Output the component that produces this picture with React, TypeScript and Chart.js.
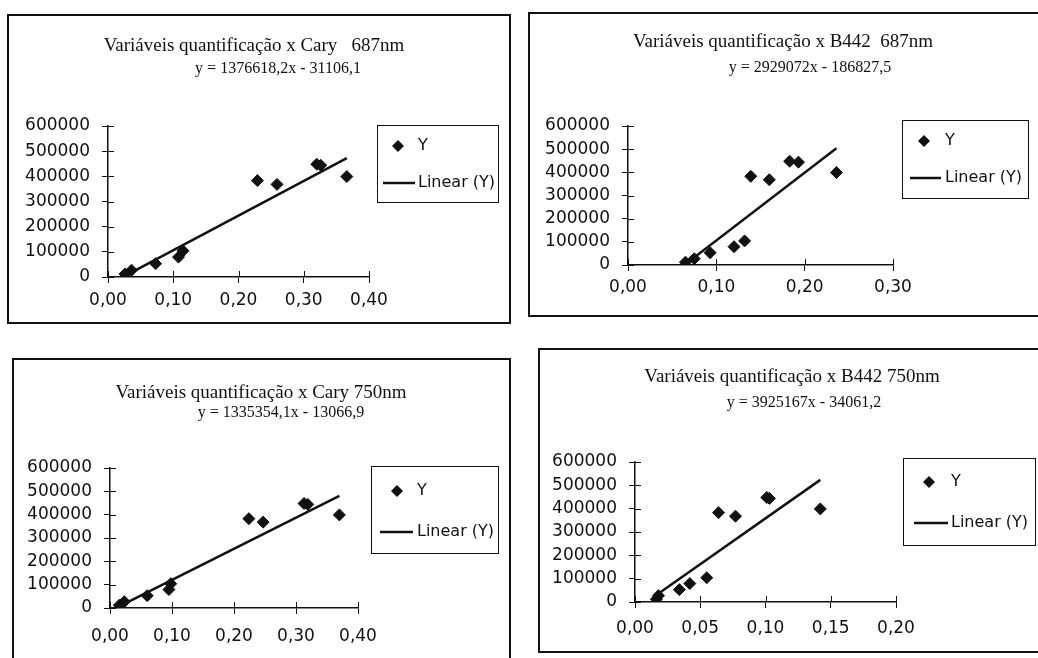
import React, { useEffect, useRef } from 'react';
import { Chart, registerables } from 'chart.js';

Chart.register(...registerables);

// ---------- data ----------
const yValues = [12000, 27000, 53000, 79000, 104000, 383000, 368000, 448000, 444000, 399000];
const xCary687 = [0.026, 0.036, 0.073, 0.108, 0.115, 0.229, 0.259, 0.320, 0.326, 0.366];
const xB442_687 = [0.065, 0.075, 0.093, 0.120, 0.132, 0.139, 0.160, 0.183, 0.193, 0.236];
const xCary750 = [0.015, 0.023, 0.060, 0.095, 0.098, 0.224, 0.247, 0.313, 0.319, 0.370];
const xB442_750 = [0.0164, 0.018, 0.034, 0.042, 0.055, 0.064, 0.077, 0.101, 0.103, 0.142];
const xSeries = [xCary687, xB442_687, xCary750, xB442_750];

const titles = [
  'Variáveis quantificação x Cary   687nm',
  'Variáveis quantificação x B442  687nm',
  'Variáveis quantificação x Cary 750nm',
  'Variáveis quantificação x B442 750nm',
];
const equations = [
  'y = 1376618,2x - 31106,1',
  'y = 2929072x - 186827,5',
  'y = 1335354,1x - 13066,9',
  'y = 3925167x - 34061,2',
];
const slopes = [1376618.2, 2929072, 1335354.1, 3925167];
const intercepts = [-31106.1, -186827.5, -13066.9, -34061.2];
const xAxisMax = [0.4, 0.3, 0.4, 0.2];
const xAxisStep = [0.1, 0.1, 0.1, 0.05];
const yAxisMax = 600000;
const yAxisStep = 100000;
const legendLabels = ['Y', 'Linear (Y)'];

// ---------- layout ----------
type Panel = {
  left: number; top: number; w: number; h: number;
  area: { l: number; t: number; r: number; b: number };
  titleX: number; titleY: number; eqX: number; eqY: number;
  xPad: number;
  legend: { x: number; y: number; w: number; h: number; dx: number; dy: number; l0: number; l1: number; ly: number; tx: number };
};

const panels: Panel[] = [
  {
    left: 7, top: 14, w: 504, h: 310,
    area: { l: 101, t: 112, r: 362, b: 263 },
    titleX: 247, titleY: 32, eqX: 271, eqY: 55, xPad: 7,
    legend: { x: 370, y: 111, w: 121, h: 77, dx: 21, dy: 21, l0: 6, l1: 38, ly: 58, tx: 41 },
  },
  {
    left: 528, top: 12, w: 520, h: 305,
    area: { l: 100, t: 114, r: 365, b: 253 },
    titleX: 255, titleY: 30, eqX: 282, eqY: 56, xPad: 6,
    legend: { x: 374, y: 108, w: 126, h: 78, dx: 22, dy: 21, l0: 8, l1: 39, ly: 58, tx: 43 },
  },
  {
    left: 12, top: 358, w: 499, h: 320,
    area: { l: 98, t: 110, r: 346, b: 250 },
    titleX: 249, titleY: 35, eqX: 269, eqY: 55, xPad: 12,
    legend: { x: 359, y: 108, w: 127, h: 87, dx: 26, dy: 25, l0: 9, l1: 42, ly: 66, tx: 46 },
  },
  {
    left: 538, top: 348, w: 520, h: 305,
    area: { l: 97, t: 114, r: 358, b: 254 },
    titleX: 254, titleY: 29, eqX: 266, eqY: 55, xPad: 10,
    legend: { x: 365, y: 110, w: 132, h: 87, dx: 26, dy: 24, l0: 11, l1: 45, ly: 65, tx: 48 },
  },
];

const INK = '#111111';
const SANS = '"DejaVu Sans", "Liberation Sans", sans-serif';
const SERIF = '"Liberation Serif", "DejaVu Serif", serif';
const X_AXIS_H = 40;

function diamond(ctx: CanvasRenderingContext2D, x: number, y: number, r: number) {
  ctx.beginPath();
  ctx.moveTo(x - r, y);
  ctx.lineTo(x, y - r);
  ctx.lineTo(x + r, y);
  ctx.lineTo(x, y + r);
  ctx.closePath();
  ctx.fill();
}

function makePlugin(p: Panel, idx: number) {
  return {
    id: 'decor' + idx,
    beforeDatasetsDraw(chart: any) {
      const ctx = chart.ctx as CanvasRenderingContext2D;
      const xs = chart.scales.x;
      const ys = chart.scales.y;
      ctx.save();
      ctx.strokeStyle = INK;
      ctx.lineWidth = 1;
      ctx.beginPath();
      ys.ticks.forEach((t: any) => {
        const py = Math.round(ys.getPixelForValue(t.value)) + 0.5;
        ctx.moveTo(xs.left, py);
        ctx.lineTo(xs.left + 6, py);
      });
      xs.ticks.forEach((t: any) => {
        const px = Math.round(xs.getPixelForValue(t.value)) + 0.5;
        ctx.moveTo(px, ys.bottom);
        ctx.lineTo(px, ys.bottom - 6);
      });
      ctx.stroke();
      ctx.restore();
    },
    afterDraw(chart: any) {
      const ctx = chart.ctx as CanvasRenderingContext2D;
      ctx.save();
      // frame
      ctx.strokeStyle = INK;
      ctx.lineWidth = 2;
      ctx.strokeRect(1, 1, p.w - 2, p.h - 2);
      // title + equation
      ctx.fillStyle = INK;
      ctx.textAlign = 'center';
      ctx.textBaseline = 'middle';
      ctx.font = '19px ' + SERIF;
      ctx.fillText(titles[idx], p.titleX, p.titleY);
      ctx.font = '16px ' + SERIF;
      ctx.fillText(equations[idx], p.eqX, p.eqY);
      // legend
      const L = p.legend;
      ctx.lineWidth = 1;
      ctx.strokeRect(L.x + 0.5, L.y + 0.5, L.w, L.h);
      diamond(ctx, L.x + L.dx, L.y + L.dy, 6);
      ctx.lineWidth = 2.5;
      ctx.beginPath();
      ctx.moveTo(L.x + L.l0, L.y + L.ly);
      ctx.lineTo(L.x + L.l1, L.y + L.ly);
      ctx.stroke();
      ctx.font = '16px ' + SANS;
      ctx.textAlign = 'left';
      ctx.fillText(legendLabels[0], L.x + L.tx, L.y + L.dy);
      ctx.fillText(legendLabels[1], L.x + L.tx, L.y + L.ly);
      ctx.restore();
    },
  };
}

function ScatterPanel({ idx }: { idx: number }) {
  const ref = useRef<HTMLCanvasElement>(null);
  const p = panels[idx];
  useEffect(() => {
    const xs = xSeries[idx];
    const pts = xs.map((x, i) => ({ x, y: yValues[i] }));
    const xMin = Math.min(...xs);
    const xMax = Math.max(...xs);
    const trend = [
      { x: xMin, y: slopes[idx] * xMin + intercepts[idx] },
      { x: xMax, y: slopes[idx] * xMax + intercepts[idx] },
    ];
    const yW = p.area.l;
    const padBottom = p.h - p.area.b - X_AXIS_H;
    const chart = new Chart(ref.current as HTMLCanvasElement, {
      type: 'scatter',
      data: {
        datasets: [
          {
            label: legendLabels[0],
            data: pts,
            pointStyle: 'rectRot',
            pointRadius: 6,
            pointBorderWidth: 1,
            backgroundColor: INK,
            borderColor: INK,
          },
          {
            label: legendLabels[1],
            data: trend,
            showLine: true,
            pointRadius: 0,
            borderColor: INK,
            borderWidth: 2.5,
            backgroundColor: INK,
          },
        ],
      },
      options: {
        responsive: false,
        animation: false,
        events: [],
        layout: {
          padding: { left: 0, top: p.area.t, right: p.w - p.area.r, bottom: padBottom },
        },
        plugins: {
          legend: { display: false },
          title: { display: false },
          tooltip: { enabled: false },
        },
        scales: {
          x: {
            type: 'linear',
            min: 0,
            max: xAxisMax[idx],
            afterFit: (s: any) => { s.height = X_AXIS_H; },
            ticks: {
              stepSize: xAxisStep[idx],
              autoSkip: false,
              padding: p.xPad,
              color: INK,
              font: { family: SANS, size: 17 },
              maxRotation: 0,
              callback: (v: any) => Number(v).toFixed(2).replace('.', ','),
            },
            grid: { display: true, drawOnChartArea: false, drawTicks: true, tickLength: 6, color: INK, lineWidth: 1 },
            border: { display: true, color: INK, width: 1.5 },
          },
          y: {
            type: 'linear',
            min: 0,
            max: yAxisMax,
            afterFit: (s: any) => { s.width = yW; },
            ticks: {
              stepSize: yAxisStep,
              autoSkip: false,
              padding: 12,
              color: INK,
              font: { family: SANS, size: 17 },
              callback: (v: any) => String(v),
            },
            grid: { display: true, drawOnChartArea: false, drawTicks: true, tickLength: 6, color: INK, lineWidth: 1 },
            border: { display: true, color: INK, width: 1.5 },
          },
        },
      },
      plugins: [makePlugin(p, idx)],
    } as any);
    return () => chart.destroy();
  }, [idx]);
  return (
    <canvas
      ref={ref}
      width={p.w}
      height={p.h}
      style={{ position: 'absolute', left: p.left, top: p.top, width: p.w, height: p.h }}
    />
  );
}

export default function App() {
  return (
    <div
      style={{
        position: 'absolute',
        left: 0,
        top: 0,
        width: 1038,
        height: 658,
        overflow: 'hidden',
        background: '#fff',
      }}
    >
      {[0, 1, 2, 3].map((i) => (
        <ScatterPanel key={i} idx={i} />
      ))}
    </div>
  );
}
